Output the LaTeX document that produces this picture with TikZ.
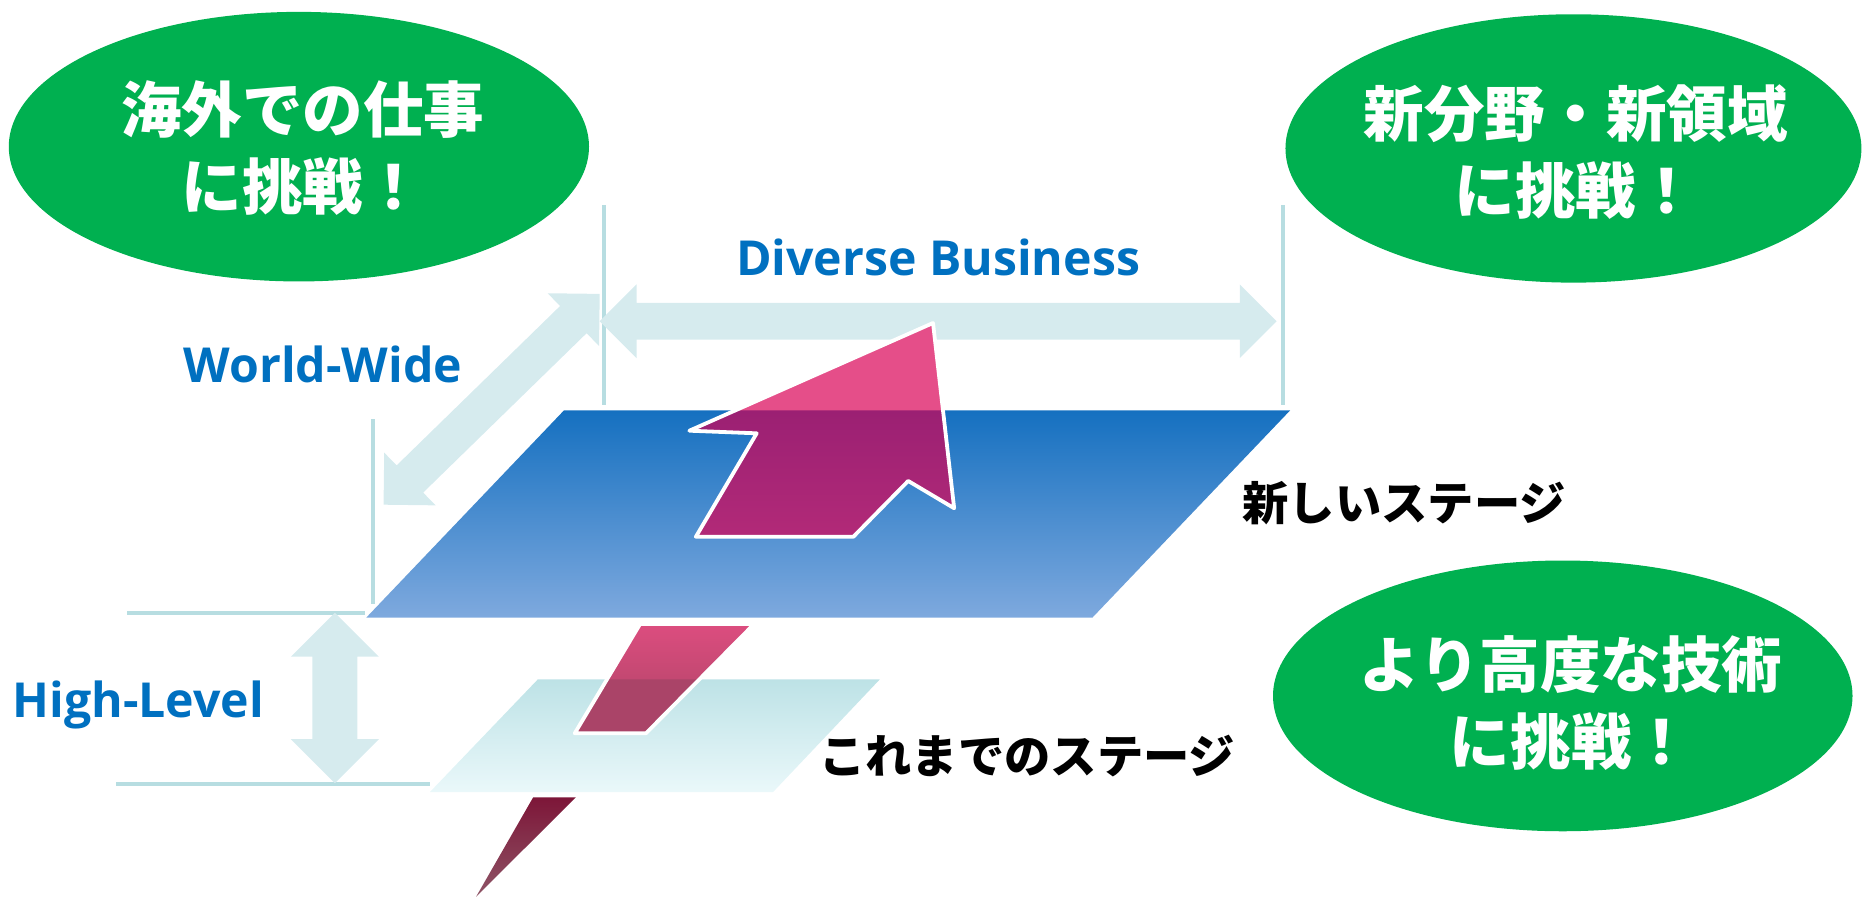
\documentclass[tikz,border=0pt]{standalone}
\usepackage{fontspec}
\setmainfont{Open Sans}
\newfontfamily\latinfont{Open Sans}
\newfontfamily\jpfont{Noto Sans CJK JP}
\usetikzlibrary{calc,shapes.geometric}

\definecolor{okgreen}{RGB}{0,176,80}
\definecolor{okblue}{RGB}{0,112,192}
\definecolor{paleteal}{RGB}{214,235,238}
\definecolor{guideteal}{RGB}{183,221,225}
\definecolor{stagetop}{RGB}{21,112,192}
\definecolor{stagebot}{RGB}{126,169,222}
\definecolor{oldtop}{RGB}{189,226,230}
\definecolor{oldbot}{RGB}{234,248,250}
\definecolor{arrowpink}{RGB}{229,78,137}
\definecolor{arrowpurptop}{RGB}{155,32,115}
\definecolor{arrowpurpbot}{RGB}{193,48,123}
\definecolor{boltlight}{RGB}{220,77,127}
\definecolor{boltmid}{RGB}{170,67,100}
\definecolor{boltover}{RGB}{170,68,104}
\definecolor{tailtop}{RGB}{125,22,56}
\definecolor{tailbot}{RGB}{142,84,102}

\tikzset{
  guide/.style={draw=guideteal, line width=3pt},
  spanfill/.style={fill=paleteal},
  bubble/.style={ellipse, fill=okgreen, inner sep=0pt},
  bubbletext/.style={text=white, align=center, inner sep=0pt,
    font=\jpfont\bfseries\fontsize{51}{65}\selectfont},
  axislabel/.style={text=okblue, inner sep=0pt,
    font=\latinfont\bfseries\fontsize{40.6}{48}\selectfont},
  stagelabel/.style={text=black, inner sep=0pt,
    font=\jpfont\bfseries\fontsize{39}{46}\selectfont},
  whiteedge/.style={draw=white, line width=3.2pt, line join=round},
}

% double-headed block arrow between two tips:
% #1,#2 tips, #3 shaft half width, #4 head half width, #5 head length
\newcommand\spanarrow[5]{%
  \fill[spanfill] (#1)
    -- ($(#1)!#5!(#2)!#4!90:(#2)$)
    -- ($(#1)!#5!(#2)!#3!90:(#2)$)
    -- ($(#2)!#5!(#1)!#3!-90:(#1)$)
    -- ($(#2)!#5!(#1)!#4!-90:(#1)$)
    -- (#2)
    -- ($(#2)!#5!(#1)!#4!90:(#1)$)
    -- ($(#2)!#5!(#1)!#3!90:(#1)$)
    -- ($(#1)!#5!(#2)!#3!-90:(#2)$)
    -- ($(#1)!#5!(#2)!#4!-90:(#2)$)
    -- cycle;}

\begin{document}
\begin{tikzpicture}[x=1pt,y=-1pt]
\useasboundingbox (0,0) rectangle (1568,755);

% guide lines
\coordinate (g1a) at (508.6,172.6);  \coordinate (g1b) at (508.6,341);
\coordinate (g2a) at (1080.6,172.6); \coordinate (g2b) at (1080.6,341);
\coordinate (g3a) at (314,353);      \coordinate (g3b) at (314,509);
\coordinate (g4a) at (107,516);      \coordinate (g4b) at (307,516);
\coordinate (g5a) at (98,660);       \coordinate (g5b) at (362,660);
\draw[guide] (g1a) -- (g1b);
\draw[guide] (g2a) -- (g2b);
\draw[guide] (g3a) -- (g3b);
\draw[guide] (g4a) -- (g4b);
\draw[guide] (g5a) -- (g5b);

% span arrows
\coordinate (hA) at (505,270.5);  \coordinate (hB) at (1075,270.5);
\coordinate (dA) at (505,247.5);  \coordinate (dB) at (323,425);
\coordinate (vA) at (282,516);    \coordinate (vB) at (282,659.5);
\spanarrow{hA}{hB}{15.5pt}{31pt}{31pt}
\spanarrow{dA}{dB}{16pt}{31pt}{31pt}
\spanarrow{vA}{vB}{19pt}{37pt}{37pt}

% green bubbles
\node[bubble, minimum width=488.6pt, minimum height=227pt] (bubL) at (251.7,123.5) {};
\node[bubble, minimum width=485pt, minimum height=226pt] (bubR) at (1325,125) {};
\node[bubble, minimum width=488pt, minimum height=228pt] (bubB) at (1316,586) {};
\node[bubbletext] (txtL) at (255,125) {海外での仕事\\に挑戦！};
\node[bubbletext] (txtR) at (1327,128) {新分野・新領域\\に挑戦！};
\node[bubbletext] (txtB) at (1323,592) {より高度な技術\\に挑戦！};

% previous stage
\coordinate (o1) at (453,572); \coordinate (o2) at (741,572);
\coordinate (o3) at (651,667); \coordinate (o4) at (362,667);
\shade[top color=oldtop, bottom color=oldbot] (o1) -- (o2) -- (o3) -- (o4) -- cycle;

% new stage
\coordinate (s1) at (475,345.5); \coordinate (s2) at (1086.5,345.5);
\coordinate (s3) at (920,520);   \coordinate (s4) at (308.5,520);
\shade[top color=stagetop, bottom color=stagebot] (s1) -- (s2) -- (s3) -- (s4) -- cycle;

% rising arrow
\coordinate (a1) at (785.7,272);
\coordinate (a2) at (803.5,428);
\coordinate (a3) at (764.8,405);
\coordinate (a4) at (718.6,452);
\coordinate (a5) at (586,452);
\coordinate (a6) at (637.2,364.9);
\coordinate (a7) at (580.5,362.7);
\fill[arrowpink] (a1) -- (a2) -- (a3) -- (a4) -- (a5) -- (a6) -- (a7) -- cycle;
\begin{scope}
  \clip (a1) -- (a2) -- (a3) -- (a4) -- (a5) -- (a6) -- (a7) -- cycle;
  \shade[top color=arrowpurptop, bottom color=arrowpurpbot] (s1) -- (s2) -- (s3) -- (s4) -- cycle;
\end{scope}
\draw[whiteedge] (a1) -- (a2) -- (a3) -- (a4) -- (a5) -- (a6) -- (a7) -- cycle;

% bolt segment between the stages
\coordinate (b1) at (539,525.5); \coordinate (b2) at (635,525.5);
\coordinate (b3) at (544,617.5); \coordinate (b4) at (484,617.5);
\shade[top color=boltlight, bottom color=boltmid] (b1) -- (b2) -- (b3) -- (b4) -- cycle;
\begin{scope}
  \clip (o1) -- (o2) -- (o3) -- (o4) -- cycle;
  \fill[boltover] (b1) -- (b2) -- (b3) -- (b4) -- cycle;
\end{scope}
\draw[whiteedge] (b1) -- (b2) -- (b3) -- (b4) -- cycle;

% bolt tail
\coordinate (t1) at (449,671.4); \coordinate (t2) at (485,671.4);
\coordinate (t3) at (401,755);
\shade[top color=tailtop, bottom color=tailbot] (t1) -- (t2) -- (t3) -- cycle;

% labels
\node[axislabel, anchor=base] (lblDiv) at (790,232) {Diverse Business};
\node[axislabel, anchor=base] (lblWorld) at (272,322) {World-Wide};
\node[axislabel, anchor=base] (lblHigh) at (116.5,604) {High-Level};
\node[stagelabel] (lblNew) at (1182.5,424) {新しいステージ};
\node[stagelabel] (lblOld) at (865,637) {これまでのステージ};
\end{tikzpicture}
\end{document}
